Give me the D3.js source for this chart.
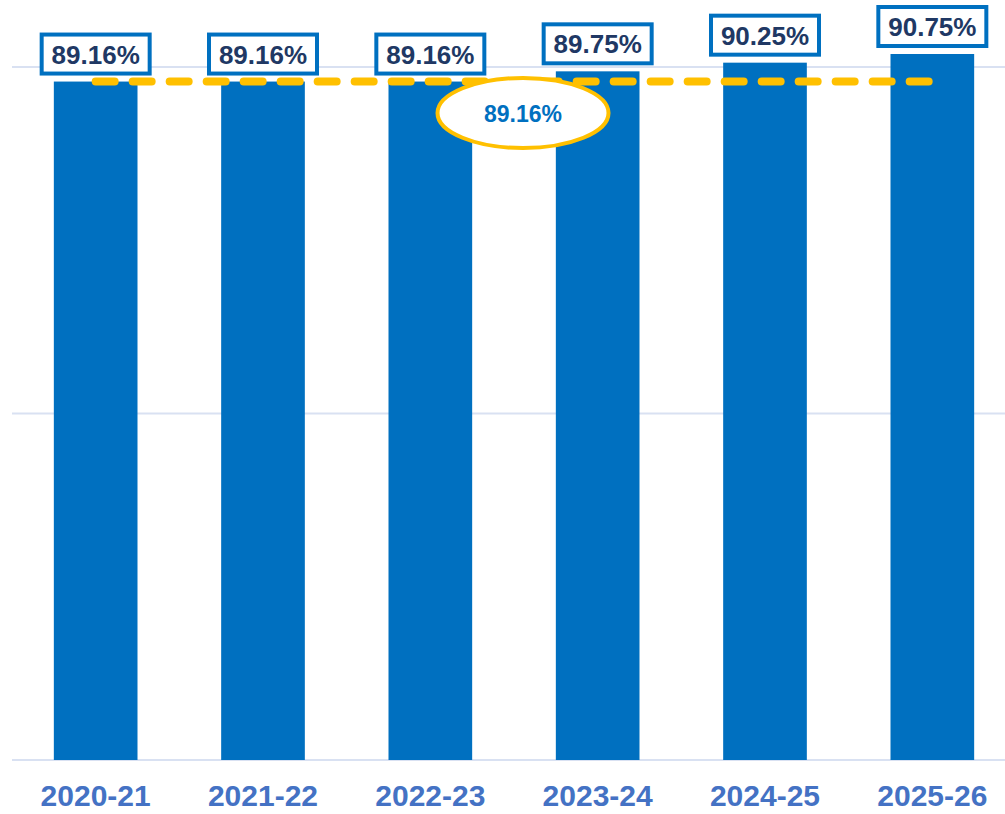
<!DOCTYPE html>
<html lang="en">
  <head>
    <meta charset="utf-8">
    <title>Bar Chart</title>
    <style>
      body { margin: 0; background: #fff; }
      svg { display: block; font-family: "Liberation Sans", Arial, sans-serif; }
      .grid line { stroke: #d9e1f2; stroke-width: 2px; }
      .bar { fill: #0070c0; }
      .label rect { fill: #fff; stroke: #0070c0; stroke-width: 4px; }
      .label text { fill: #203864; font-size: 26px; font-weight: bold; }
      .xlab { fill: #4472c4; font-size: 30px; font-weight: bold; }
    </style>
  </head>
  <body>
    <svg id="chart"></svg>
    <script src="https://cdn.jsdelivr.net/npm/d3@7"></script>
    <script>
      var years = ["2020-21", "2021-22", "2022-23", "2023-24", "2024-25", "2025-26"];
      var rates = [89.16, 89.16, 89.16, 89.75, 90.25, 90.75];
      var gridTicks = [50, 70, 90];
      var baseline = 89.16;

      var width = 1005, height = 814;

      var svg = d3.select("#chart")
          .attr("width", width)
          .attr("height", height);

      var x = d3.scaleBand()
          .domain(years)
          .range([12, 1016])
          .paddingInner(0.5)
          .paddingOuter(0.25);

      var y = d3.scaleLinear()
          .domain([50, 90])
          .range([760, 67]);

      // gridlines
      svg.append("g").attr("class", "grid")
        .selectAll("line")
        .data(gridTicks)
        .enter().append("line")
          .attr("x1", 12)
          .attr("x2", width)
          .attr("y1", function(d) { return y(d); })
          .attr("y2", function(d) { return y(d); });

      // bars
      svg.append("g")
        .selectAll("rect")
        .data(rates)
        .enter().append("rect")
          .attr("class", "bar")
          .attr("x", function(d, i) { return x(years[i]); })
          .attr("width", x.bandwidth())
          .attr("y", function(d) { return y(d); })
          .attr("height", function(d) { return y(50) - y(d); });

      // dashed reference line
      svg.append("line")
          .attr("x1", x(years[0]) + x.bandwidth() / 2)
          .attr("x2", x(years[years.length - 1]) + x.bandwidth() / 2 + 3)
          .attr("y1", y(baseline))
          .attr("y2", y(baseline))
          .attr("stroke", "#ffc000")
          .attr("stroke-width", 8)
          .attr("stroke-linecap", "round")
          .attr("stroke-dasharray", "19,18");

      // value labels in boxes
      var labels = svg.append("g")
        .selectAll("g")
        .data(rates)
        .enter().append("g")
          .attr("class", "label")
          .attr("transform", function(d, i) {
            return "translate(" + (x(years[i]) + x.bandwidth() / 2) + "," + (y(d) - 27.5) + ")";
          });

      labels.append("rect")
          .attr("x", -54)
          .attr("y", -19.5)
          .attr("width", 108)
          .attr("height", 39);

      labels.append("text")
          .attr("text-anchor", "middle")
          .attr("y", 9.5)
          .text(function(d) { return d.toFixed(2) + "%"; });

      // baseline callout
      var cx = (x(years[2]) + x(years[3]) + x.bandwidth()) / 2 + 9;
      var callout = svg.append("g")
          .attr("transform", "translate(" + cx + ",113)");

      callout.append("ellipse")
          .attr("rx", 85.5)
          .attr("ry", 35)
          .attr("fill", "#fff")
          .attr("stroke", "#ffc000")
          .attr("stroke-width", 4);

      callout.append("text")
          .attr("text-anchor", "middle")
          .attr("y", 8.5)
          .attr("fill", "#0070c0")
          .attr("font-size", 23)
          .attr("font-weight", "bold")
          .text(baseline.toFixed(2) + "%");

      // category labels
      svg.append("g")
        .selectAll("text")
        .data(years)
        .enter().append("text")
          .attr("class", "xlab")
          .attr("text-anchor", "middle")
          .attr("x", function(d) { return x(d) + x.bandwidth() / 2; })
          .attr("y", 806)
          .text(function(d) { return d; });
    </script>
  </body>
</html>
